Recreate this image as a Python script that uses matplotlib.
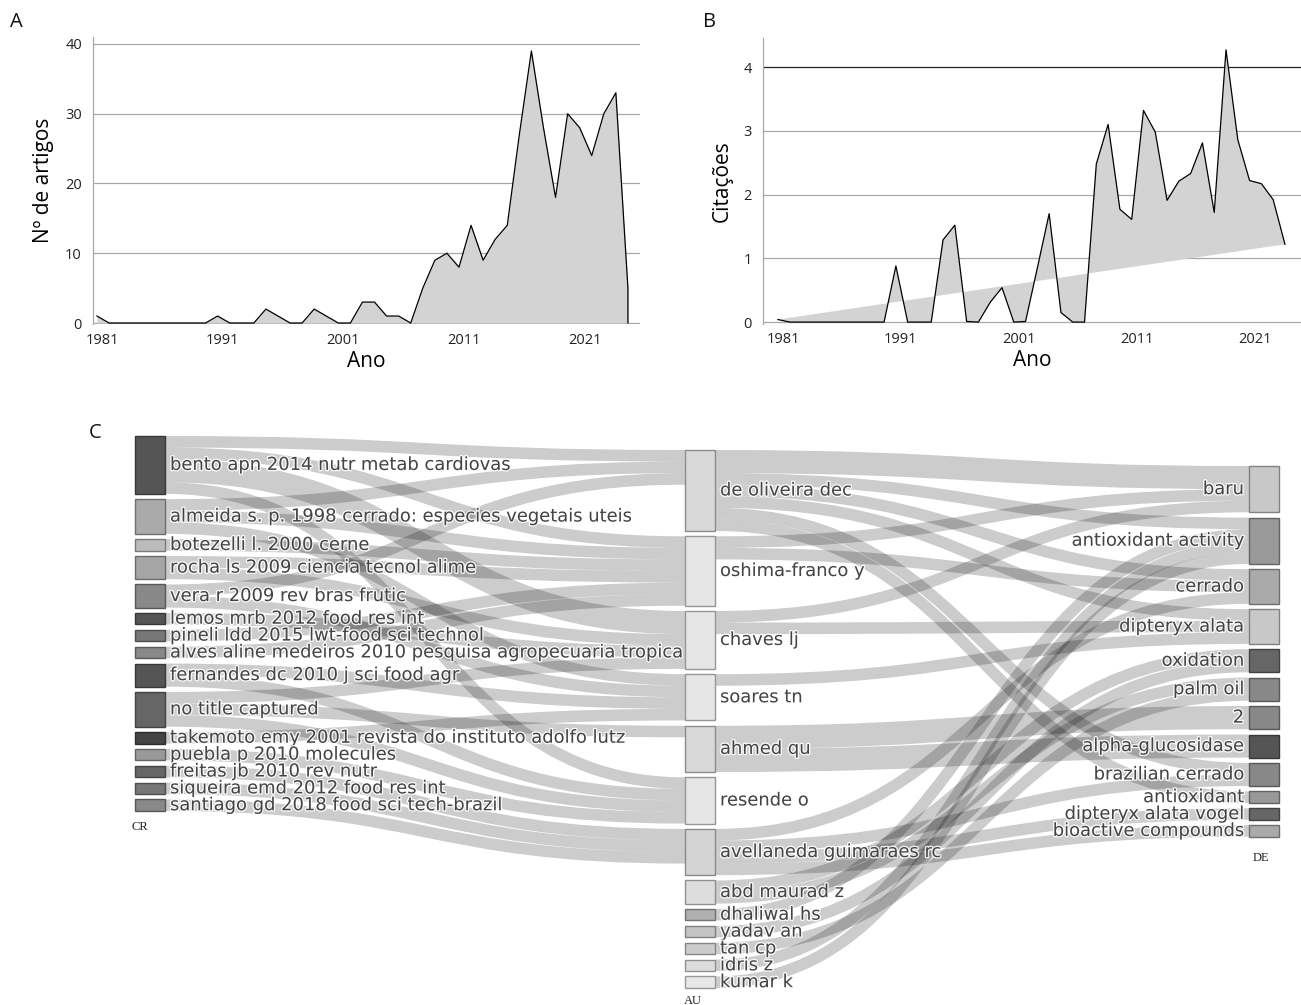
import numpy as np
import matplotlib.pyplot as plt
import matplotlib.patheffects as pe
import matplotlib.transforms as mtrans
from matplotlib.path import Path
from matplotlib.patches import PathPatch, Rectangle

W, H = 1301, 1005

# ── Painel A: nº de artigos por ano ──────────────────────────────────────────
anos_a = list(range(1981, 2026))
artigos = [1, 0, 0, 0, 0, 0, 0, 0, 0, 0,
           1, 0, 0, 0, 2, 1, 0, 0, 2, 1,
           0, 0, 3, 3, 1, 1, 0, 5, 9, 10,
           8, 14, 9, 12, 14, 27, 39, 28, 18, 30,
           28, 24, 30, 33, 5]

# ── Painel B: citações médias por ano ────────────────────────────────────────
anos_b = list(range(1981, 2025))
citacoes = [0.04, 0, 0, 0, 0, 0, 0, 0, 0, 0,
            0.88, 0, 0, 0, 1.29, 1.52, 0.01, 0, 0.31, 0.54,
            0, 0.01, 0.85, 1.70, 0.15, 0, 0, 2.48, 3.10, 1.77,
            1.61, 3.32, 2.98, 1.91, 2.21, 2.33, 2.81, 1.72, 4.27, 2.86,
            2.22, 2.17, 1.92, 1.22]

anos_ticks = [1981, 1991, 2001, 2011, 2021]

# ── Painel C: three-field plot (CR / AU / DE) ────────────────────────────────
cr_nodes = ["bento apn 2014 nutr metab cardiovas",
            "almeida s. p. 1998 cerrado: especies vegetais uteis",
            "botezelli l. 2000 cerne",
            "rocha ls 2009 ciencia tecnol alime",
            "vera r 2009 rev bras frutic",
            "lemos mrb 2012 food res int",
            "pineli ldd 2015 lwt-food sci technol",
            "alves aline medeiros 2010 pesquisa agropecuaria tropica",
            "fernandes dc 2010 j sci food agr",
            "no title captured",
            "takemoto emy 2001 revista do instituto adolfo lutz",
            "puebla p 2010 molecules",
            "freitas jb 2010 rev nutr",
            "siqueira emd 2012 food res int",
            "santiago gd 2018 food sci tech-brazil"]

au_nodes = ["de oliveira dec", "oshima-franco y", "chaves lj", "soares tn",
            "ahmed qu", "resende o", "avellaneda guimaraes rc", "abd maurad z",
            "dhaliwal hs", "yadav an", "tan cp", "idris z", "kumar k"]

de_nodes = ["baru", "antioxidant activity", "cerrado", "dipteryx alata",
            "oxidation", "palm oil", "2", "alpha-glucosidase",
            "brazilian cerrado", "antioxidant", "dipteryx alata vogel",
            "bioactive compounds"]

# (origem, destino, valor)
cr_au_links = [(0, 0, 1), (0, 1, 1), (0, 2, 2), (0, 5, 1),
               (1, 0, 1), (1, 1, 1), (1, 3, 1),
               (2, 1, 1),
               (3, 1, 1), (3, 2, 1),
               (4, 0, 1), (4, 3, 1),
               (5, 2, 1),
               (6, 1, 1),
               (7, 1, 1),
               (8, 3, 1), (8, 5, 1),
               (9, 2, 1), (9, 4, 1), (9, 5, 1),
               (10, 3, 1),
               (11, 5, 1),
               (12, 6, 1), (13, 6, 1), (14, 6, 1)]

au_de_links = [(0, 0, 2), (0, 1, 1), (0, 2, 1), (0, 3, 1), (0, 8, 1), (0, 9, 1),
               (1, 0, 1), (1, 2, 1),
               (2, 0, 1), (2, 3, 1),
               (3, 3, 1),
               (4, 6, 2), (4, 7, 2),
               (6, 2, 1), (6, 8, 1), (6, 10, 1), (6, 11, 1),
               (7, 4, 1), (7, 5, 1),
               (8, 1, 1), (9, 4, 1), (10, 5, 1), (11, 1, 1), (12, 1, 1)]

cr_cores = ["#555555", "#aaaaaa", "#bbbbbb", "#a5a5a5", "#888888", "#555555",
            "#777777", "#888888", "#555555", "#666666", "#444444", "#999999",
            "#666666", "#777777", "#888888"]
au_cores = ["#d8d8d8", "#e6e6e6", "#e6e6e6", "#e6e6e6", "#d8d8d8", "#e6e6e6",
            "#d4d4d4", "#dddddd", "#b0b0b0", "#c4c4c4", "#cccccc", "#dddddd",
            "#e8e8e8"]
de_cores = ["#c8c8c8", "#999999", "#aaaaaa", "#c8c8c8", "#666666", "#888888",
            "#888888", "#555555", "#888888", "#999999", "#666666", "#aaaaaa"]

FONT = "Open Sans"
GRID = "#a8a8a8"
FILL = "#d3d3d3"


def px_axes(fig, x0, y0, x1, y1):
    return fig.add_axes([x0 / W, 1 - y1 / H, (x1 - x0) / W, (y1 - y0) / H])


def style_area_ax(fig, ax):
    for side in ("top", "right", "bottom"):
        ax.spines[side].set_visible(False)
    ax.spines["left"].set_color(GRID)
    ax.spines["left"].set_linewidth(0.9)
    ax.tick_params(length=0, labelsize=10.5, colors="#222222")
    ax.tick_params(axis="y", pad=8)
    ax.tick_params(axis="x", pad=6)
    ax.grid(axis="y", color=GRID, lw=0.9)
    ax.set_axisbelow(True)
    ax.set_xticks(anos_ticks)
    shift = mtrans.ScaledTranslation(5 / 100, 0, fig.dpi_scale_trans)
    for lab in ax.get_xticklabels():
        lab.set_fontfamily(FONT)
        lab.set_transform(lab.get_transform() + shift)
    for lab in ax.get_yticklabels():
        lab.set_fontfamily(FONT)


fig = plt.figure(figsize=(W / 100, H / 100), dpi=100)

# ── A ────────────────────────────────────────────────────────────────────────
ax_a = px_axes(fig, 93, 37, 640, 324.4)
ax_a.fill_between(anos_a, artigos, 0, color=FILL, lw=0, zorder=2)
ax_a.plot(anos_a + [anos_a[-1]], artigos + [0], color="black", lw=0.9, zorder=3)
ax_a.set_xlim(1980.67, 2026)
ax_a.set_ylim(-0.2, 41)
ax_a.set_yticks([0, 10, 20, 30, 40])
style_area_ax(fig, ax_a)
ax_a.set_xlabel("Ano", fontsize=15, family=FONT, labelpad=2)
ax_a.set_ylabel("Nº de artigos", fontsize=15, family=FONT, labelpad=8)

# ── B ────────────────────────────────────────────────────────────────────────
ax_b = px_axes(fig, 763, 37.7, 1301, 324)
ax_b.fill(anos_b, citacoes, color=FILL, lw=0, zorder=2)
ax_b.plot(anos_b, citacoes, color="black", lw=0.9, zorder=3)
ax_b.set_xlim(1979.73, 2025.36)
ax_b.set_ylim(-0.03, 4.46)
ax_b.set_yticks([0, 1, 2, 3, 4])
style_area_ax(fig, ax_b)
ax_b.yaxis.get_gridlines()[-1].set_color("#222222")
ax_b.set_xlabel("Ano", fontsize=15, family=FONT, labelpad=2)
ax_b.set_ylabel("Citações", fontsize=15, family=FONT, labelpad=8)

# ── C: sankey ────────────────────────────────────────────────────────────────
ax_c = fig.add_axes([0, 0, 1, (H - 420) / H])
ax_c.set_xlim(0, W)
ax_c.set_ylim(H, 420)
ax_c.axis("off")

K = 11.57      # px por unidade
GAP = 5.3
NODE_W = 30
cols = [(cr_nodes, cr_cores, 135, 436),
        (au_nodes, au_cores, 685, 450),
        (de_nodes, de_cores, 1249, 466)]
link_sets = [cr_au_links, au_de_links]

# valor de cada nó = max(entrada, saída)
vals = []
for ci, (names, _, _, _) in enumerate(cols):
    v_in = np.zeros(len(names))
    v_out = np.zeros(len(names))
    if ci > 0:
        for s, t, v in link_sets[ci - 1]:
            v_in[t] += v
    if ci < 2:
        for s, t, v in link_sets[ci]:
            v_out[s] += v
    vals.append(np.maximum(v_in, v_out))

# posições
ytop = []
for ci, (names, _, _, y0) in enumerate(cols):
    ys = []
    y = y0
    for v in vals[ci]:
        ys.append(y)
        y += v * K + GAP
    ytop.append(ys)

LINK_C = (0, 0, 0, 0.2)
for li, links in enumerate(link_sets):
    sx0 = cols[li][2] + NODE_W
    tx0 = cols[li + 1][2]
    src_y, tgt_y = ytop[li], ytop[li + 1]
    out_off = {i: src_y[i] for i in range(len(src_y))}
    in_off = {i: tgt_y[i] for i in range(len(tgt_y))}
    start = {}
    for s in range(len(src_y)):
        for lk in sorted([l for l in links if l[0] == s], key=lambda l: tgt_y[l[1]]):
            start[lk] = out_off[s]
            out_off[s] += lk[2] * K
    end = {}
    for t in range(len(tgt_y)):
        for lk in sorted([l for l in links if l[1] == t], key=lambda l: src_y[l[0]]):
            end[lk] = in_off[t]
            in_off[t] += lk[2] * K
    xm = (sx0 + tx0) / 2
    for lk in links:
        w = lk[2] * K
        y_s = start[lk] + w / 2
        y_t = end[lk] + w / 2
        path = Path([(sx0, y_s), (xm, y_s), (xm, y_t), (tx0, y_t)],
                    [Path.MOVETO, Path.CURVE4, Path.CURVE4, Path.CURVE4])
        ax_c.add_patch(PathPatch(path, fill=False, lw=w * 0.72, edgecolor=LINK_C,
                                 capstyle="butt", zorder=1))

halo = [pe.withStroke(linewidth=2, foreground="white", alpha=0.85)]
for ci, (names, cores, x0, _) in enumerate(cols):
    for i, name in enumerate(names):
        h = vals[ci][i] * K
        c = np.array(plt.matplotlib.colors.to_rgb(cores[i]))
        ax_c.add_patch(Rectangle((x0, ytop[ci][i]), NODE_W, h, facecolor=c,
                                 edgecolor=c * 0.65, lw=1, zorder=2))
        yc = ytop[ci][i] + h / 2
        if ci < 2:
            ax_c.text(x0 + NODE_W + 5, yc, name, ha="left", va="center",
                      fontsize=12.9, family="DejaVu Sans", color="#444444",
                      path_effects=halo, zorder=3)
        else:
            ax_c.text(x0 - 5, yc, name, ha="right", va="center",
                      fontsize=12.9, family="DejaVu Sans", color="#444444",
                      path_effects=halo, zorder=3)

# rótulos dos campos
for lab, x, y in [("CR", 131, 827), ("AU", 684, 1001), ("DE", 1253, 858)]:
    ax_c.text(x, y, lab, ha="left", va="center", fontsize=9,
              family="Liberation Serif", color="#222222")

for lab, x, y in [("A", 10, 22), ("B", 703, 22), ("C", 89, 433)]:
    fig.text(x / W, 1 - y / H, lab, ha="left", va="center", fontsize=14.5,
             family=FONT, color="#111111")

fig.savefig("out.png", dpi=100, facecolor="white")
